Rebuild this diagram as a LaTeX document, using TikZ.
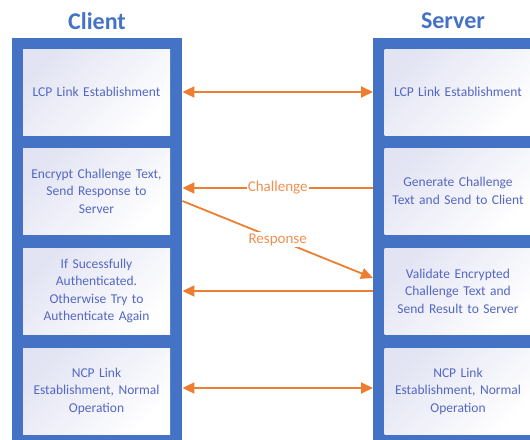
\documentclass[tikz,border=0pt]{standalone}
\usepackage{fontspec}
\setmainfont{Carlito}
\usetikzlibrary{arrows.meta}
\definecolor{frameblue}{HTML}{4472C4}
\definecolor{textblue}{HTML}{5467C4}
\definecolor{lav}{HTML}{E2E4F3}
\definecolor{arrowor}{HTML}{ED7D31}
\definecolor{labelor}{HTML}{EE9050}
\begin{document}
\begin{tikzpicture}[x=1pt,y=-1pt,
  frame/.style={fill=frameblue,draw=none},
  stepbox/.style={draw=none,left color=lav,right color=white,shading angle=45,
    minimum width=147pt,minimum height=86pt,text width=144pt,align=center,
    inner sep=0pt,text=textblue,font=\fontsize{13.5}{17.5}\selectfont},
  title/.style={text=frameblue,font=\fontsize{24}{28}\selectfont\bfseries},
  msg/.style={draw=arrowor,line width=1.8pt,-{Triangle[length=12pt,width=11pt]}},
  dmsg/.style={draw=arrowor,line width=1.8pt,{Triangle[length=12pt,width=11pt]}-{Triangle[length=12pt,width=11pt]}},
  lbl/.style={fill=white,text=labelor,inner sep=1pt,font=\fontsize{15}{17}\selectfont}]
\clip (0,0) rectangle (530,439);
\fill[white] (0,0) rectangle (530,439);
% column frames
\node[frame,anchor=north west,minimum width=170pt,minimum height=410pt,inner sep=0pt] (cframe) at (12,38) {};
\node[frame,anchor=north west,minimum width=170pt,minimum height=410pt,inner sep=0pt] (sframe) at (373,38) {};
% headings
\node[title] (ctitle) at (97,21) {Client};
\node[title] (stitle) at (453,21) {Server};
% client steps
\node[stepbox] (c1) at (96.5,92) {LCP Link Establishment};
\node[stepbox] (c2) at (96.5,191) {Encrypt Challenge Text,\\Send Response to\\Server};
\node[stepbox] (c3) at (96.5,291) {If Sucessfully\\Authenticated.\\Otherwise Try to\\Authenticate Again};
\node[stepbox] (c4) at (96.5,391) {NCP Link\\Establishment, Normal\\Operation};
% server steps
\node[stepbox] (s1) at (458,92) {LCP Link Establishment};
\node[stepbox] (s2) at (458,191) {Generate Challenge\\Text and Send to Client};
\node[stepbox] (s3) at (458,291) {Validate Encrypted\\Challenge Text and\\Send Result to Server};
\node[stepbox] (s4) at (458,391) {NCP Link\\Establishment, Normal\\Operation};
% message end points on the frame edges (yshift is in page direction: + is up)
\coordinate (rfrom) at ([yshift=-10pt]c2.east -| cframe.east);
\coordinate (rto) at ([yshift=13pt]s3.west -| sframe.west);
% messages
\draw[dmsg] (c1.east -| cframe.east) -- (s1.west -| sframe.west);
\draw[msg] ([yshift=3pt]s2.west -| sframe.west) -- node[lbl] (chl) {Challenge} ([yshift=3pt]c2.east -| cframe.east);
\draw[msg] (rfrom) -- node[lbl] (rsl) {Response} (rto);
\draw[msg] (s3.west -| sframe.west) -- (c3.east -| cframe.east);
\draw[dmsg] ([yshift=3pt]c4.east -| cframe.east) -- ([yshift=3pt]s4.west -| sframe.west);
\end{tikzpicture}
\end{document}
